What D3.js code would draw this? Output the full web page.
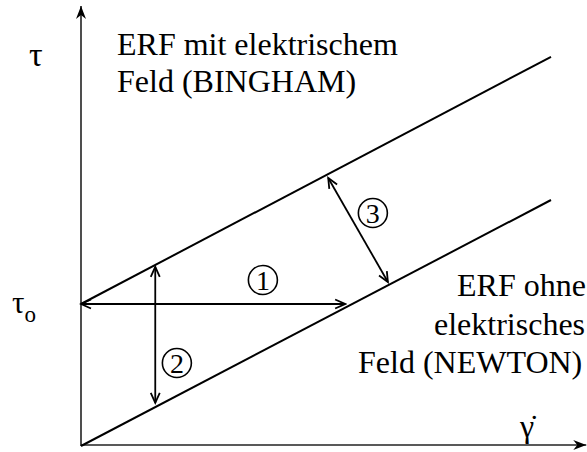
<!DOCTYPE html>
<html><head><meta charset="utf-8">
<script src="https://cdn.jsdelivr.net/npm/d3@7/dist/d3.min.js"></script>
<style>body{margin:0;background:#fff;} svg{display:block;} text{font-family:"Liberation Serif","Times New Roman",Tinos,"DejaVu Serif",serif;}</style>
</head><body>
<svg id="chart" width="587" height="452"></svg>
<script>
// Schematic data (abstract units)
const gammaDot = [0, 100];
const newton = [0, 61.5];        // ERF ohne elektrisches Feld
const bingham = [35.5, 97.3];    // ERF mit elektrischem Feld
const tau0 = 35.5;
const axisMax = {x: 107.5, y: 110};
// double arrows: [x1,y1,x2,y2]
const arrows = [
  [56.2, 35.5, 0, 35.5],
  [15.8, 44.8, 15.8, 10.8],
  [52.6, 67.0, 65.3, 41.0]
];
const circles = [
  {x: 38.7, y: 41.5, label: "1"},
  {x: 20.4, y: 20.75, label: "2"},
  {x: 62.1, y: 58.25, label: "3"}
];
const textBingham = ["ERF mit elektrischem", "Feld (BINGHAM)"];
const textNewton = ["ERF ohne", "elektrisches", "Feld (NEWTON)"];

const svg = d3.select("#chart");
const x = d3.scaleLinear().domain([0, 100]).range([81, 551]);
const y = d3.scaleLinear().domain([0, 100]).range([446, 46]);

const defs = svg.append("defs");
defs.append("marker").attr("id","ah").attr("viewBox","-12 -6 14 12")
  .attr("refX",0).attr("refY",0).attr("markerWidth",14).attr("markerHeight",12)
  .attr("markerUnits","userSpaceOnUse").attr("orient","auto-start-reverse")
  .append("path").attr("d","M-10,-4.5 L0,0 L-10,4.5").attr("fill","none")
  .attr("stroke","#000").attr("stroke-width",1.8);
defs.append("marker").attr("id","axh").attr("viewBox","-14 -7 16 14")
  .attr("refX",0).attr("refY",0).attr("markerWidth",16).attr("markerHeight",14)
  .attr("markerUnits","userSpaceOnUse").attr("orient","auto")
  .append("path").attr("d","M-13,-5 L0,0 L-13,5 L-9,0 Z").attr("fill","#000");

// axes
svg.append("line").attr("x1",x(0)).attr("y1",y(0)).attr("x2",x(0)).attr("y2",y(axisMax.y))
  .attr("stroke","#222").attr("stroke-width",1.6).attr("marker-end","url(#axh)");
svg.append("line").attr("x1",x(0)).attr("y1",y(0)-1).attr("x2",x(axisMax.x)).attr("y2",y(0)-1)
  .attr("stroke","#222").attr("stroke-width",1.6).attr("marker-end","url(#axh)");

// lines
const line = d3.line().x(d=>x(d[0])).y(d=>y(d[1]));
svg.append("path").attr("d", line(gammaDot.map((g,i)=>[g, bingham[i]])))
  .attr("fill","none").attr("stroke","#000").attr("stroke-width",2);
svg.append("path").attr("d", line(gammaDot.map((g,i)=>[g, newton[i]])))
  .attr("fill","none").attr("stroke","#000").attr("stroke-width",2);

// arrows
svg.selectAll(".arr").data(arrows).join("line").attr("class","arr")
  .attr("x1",d=>x(d[0])).attr("y1",d=>y(d[1])).attr("x2",d=>x(d[2])).attr("y2",d=>y(d[3]))
  .attr("stroke","#000").attr("stroke-width",1.8)
  .attr("marker-start","url(#ah)").attr("marker-end","url(#ah)");

// circles
const cg = svg.selectAll(".c").data(circles).join("g").attr("class","c")
  .attr("transform",d=>`translate(${x(d.x)},${y(d.y)})`);
cg.append("circle").attr("r",14.5).attr("fill","#fff").attr("stroke","#000").attr("stroke-width",1.6);
cg.append("text").attr("text-anchor","middle").attr("dy","0.36em")
  .attr("font-size",28).text(d=>d.label);

// labels
svg.append("text").attr("x",117).attr("y",55).attr("font-size",32).text(textBingham[0]);
svg.append("text").attr("x",117).attr("y",92).attr("font-size",32).text(textBingham[1]);
const ny = [296, 335, 373], nx = [457, 434, 358];
textNewton.forEach((t,i)=>{
  svg.append("text").attr("x",nx[i]).attr("y",ny[i]).attr("font-size",32).text(t);
});
svg.append("text").attr("x",29).attr("y",66).attr("font-size",34).text("τ");
const t0 = svg.append("text").attr("x",12).attr("y",313).attr("font-size",31);
t0.append("tspan").text("τ");
t0.append("tspan").attr("dy",9).attr("font-size",23).text("o");
svg.append("text").attr("x",520).attr("y",437).attr("font-size",32).text("γ\u0307");
</script>
</body></html>
